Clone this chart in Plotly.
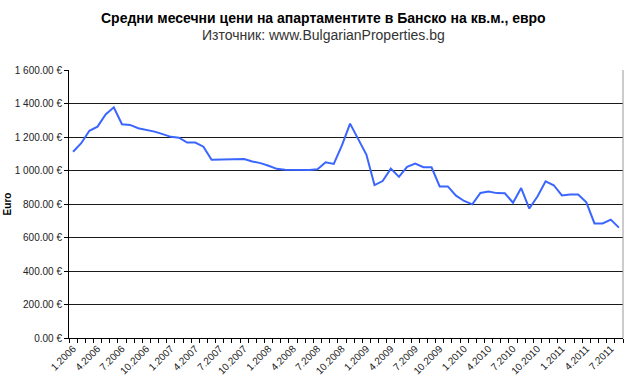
import plotly.graph_objects as go

months = [f"{m}.{y}" for y in range(2006, 2012) for m in range(1, 13)][:68]

prices = [1112, 1163, 1237, 1262, 1335, 1377, 1276, 1272, 1252, 1243, 1232, 1217,
          1201, 1196, 1167, 1167, 1142, 1064, 1064, 1067, 1068, 1068, 1054, 1044,
          1028, 1010, 1004, 1003, 1003, 1003, 1007, 1049, 1039, 1150, 1280, 1190,
          1095, 913, 937, 1011, 962, 1022, 1042, 1020, 1019, 905, 905, 850,
          818, 798, 866, 874, 865, 864, 808, 895, 773, 845, 935, 912,
          851, 856, 856, 810, 684, 684, 707, 659]

title_text = "Средни месечни цени на апартаментите в Банско на кв.м., евро"
subtitle_text = "Източник: www.BulgarianProperties.bg"
y_title = "Euro"

idx = list(range(len(months)))
label_idx = idx[::3]
label_text = [months[i] for i in label_idx]

fig = go.Figure()
fig.add_trace(go.Scatter(
    x=idx, y=prices, mode="lines",
    line=dict(color="#3a66ff", width=2),
    hoverinfo="skip", showlegend=False,
))

font_family = "Liberation Sans, Arial, sans-serif"

fig.update_layout(
    width=640, height=388,
    margin=dict(l=69, r=17, t=70, b=50),
    paper_bgcolor="white", plot_bgcolor="white",
    separators=". ",
    font=dict(family=font_family, color="#000000", size=10),
    showlegend=False,
    annotations=[
        dict(text="<b>" + title_text + "</b>", xref="paper", yref="paper",
             x=0.46, y=1.194, xanchor="center", yanchor="middle",
             showarrow=False, font=dict(size=14, family=font_family, color="#000")),
        dict(text=subtitle_text, xref="paper", yref="paper",
             x=0.46, y=1.131, xanchor="center", yanchor="middle",
             showarrow=False, font=dict(size=14, family=font_family, color="#333")),
    ],
)

fig.update_xaxes(
    range=[-0.5, len(months) - 0.5], automargin=False,
    tickmode="array", tickvals=label_idx, ticktext=label_text,
    tickangle=-45, ticks="", showgrid=False, zeroline=False,
    showline=True, linecolor="#000000", linewidth=1,
    tickfont=dict(size=10, color="#222"),
    minor=dict(tickmode="linear", tick0=-0.5, dtick=1, ticks="outside",
               ticklen=4, tickcolor="#000", showgrid=False),
)

fig.update_yaxes(
    range=[0, 1600], dtick=200, tickformat=",.2f", ticksuffix=" €",
    automargin=False,
    showgrid=True, gridcolor="#1a1a1a", gridwidth=1, zeroline=False,
    showline=True, linecolor="#000000", linewidth=1,
    ticks="outside", ticklen=4, tickcolor="#000",
    tickfont=dict(size=10, color="#222"),
    title=dict(text="<b>" + y_title + "</b>", font=dict(size=10), standoff=1),
    mirror=False,
)

# right border of the plot area
fig.add_shape(type="line", xref="paper", yref="paper", x0=1, x1=1, y0=0, y1=1,
              line=dict(color="#999999", width=1))

fig.write_html("out.html", post_script="document.body.style.margin='0';",
               config={"displayModeBar": False})
